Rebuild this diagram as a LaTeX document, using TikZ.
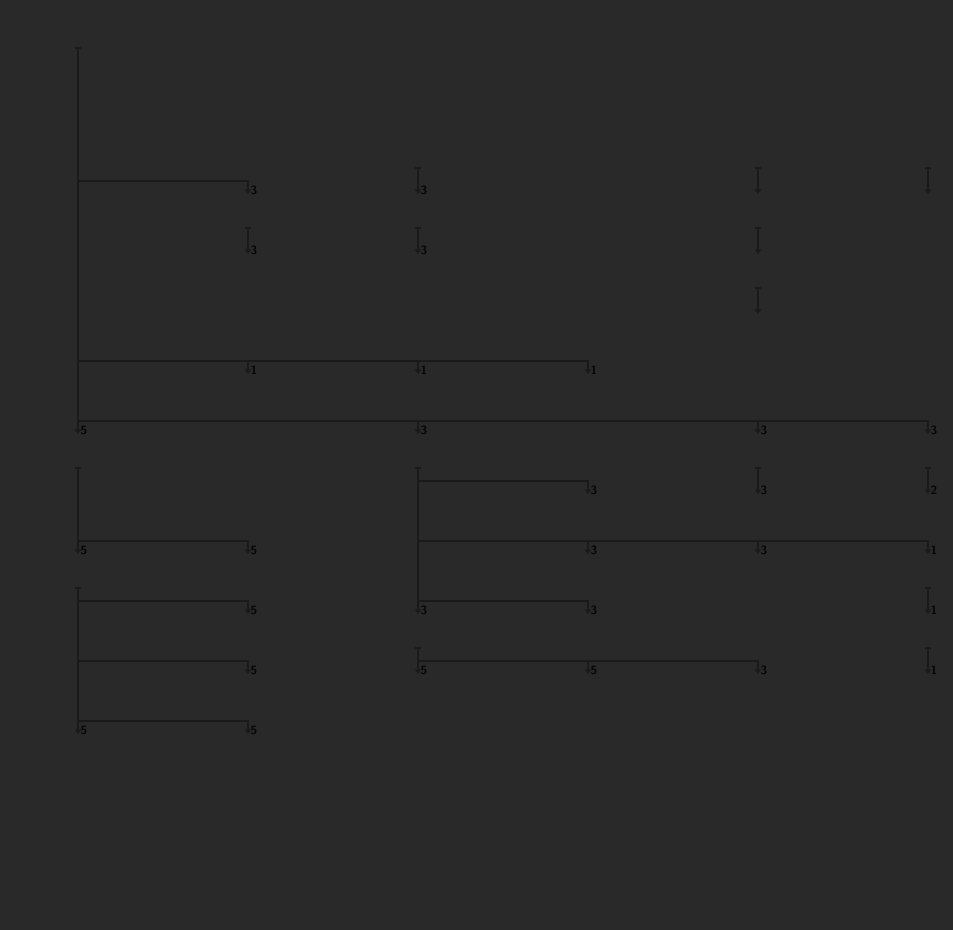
\documentclass[tikz,border=0pt]{standalone}
\usepackage{xcolor}
\usepackage{tikz}
\usetikzlibrary{arrows.meta,positioning}
\definecolor{Canvas}{HTML}{292929}
\definecolor{Wire}{HTML}{1A1A1A}
\definecolor{Digit}{HTML}{050505}

\begin{document}
\begin{tikzpicture}[x=0.75pt,y=-0.75pt,
  wire/.style={draw=Wire,line width=0.8pt},
  drop/.style={wire,-{Triangle[width=4.6pt,length=3.4pt]}},
  stem/.style={wire,{Bar[width=4.6pt,line width=1.2pt]}-{Triangle[width=4.6pt,length=3.4pt]}},
  count/.style={text=Digit,font=\sffamily\bfseries\fontsize{9}{9}\selectfont,inner sep=0pt}
]
\fill[Canvas] (0,0) rectangle (953,930);
\useasboundingbox (0,0) rectangle (953,930);

% root stems
\coordinate (m0) at (78,47);  \coordinate (m1) at (78,434);
\coordinate (b0) at (78,467); \coordinate (b1) at (78,554);
\coordinate (c0) at (418,467); \coordinate (c1) at (418,614);
\coordinate (d0) at (418,647); \coordinate (d1) at (418,674);
\coordinate (e0) at (78,587); \coordinate (e1) at (78,734);
\foreach \r in {m,b,c,d,e}
  \draw[stem] (\r0) -- (\r1);

% branch points on the stems
\coordinate (mh1) at (78,181); \coordinate (mh2) at (78,361); \coordinate (mh3) at (78,421);
\coordinate (bh1) at (78,541);
\coordinate (ch1) at (418,481); \coordinate (ch2) at (418,541); \coordinate (ch3) at (418,601);
\coordinate (dh1) at (418,661);
\coordinate (eh1) at (78,601); \coordinate (eh2) at (78,661); \coordinate (eh3) at (78,721);

% arrow ends
\coordinate (ma) at (248,194);
\coordinate (mb) at (248,374); \coordinate (mc) at (418,374); \coordinate (md) at (588,374);
\coordinate (me) at (418,434); \coordinate (mf) at (758,434); \coordinate (mg) at (928,434);
\coordinate (ba) at (248,554);
\coordinate (ca) at (588,494);
\coordinate (cb) at (588,554); \coordinate (cc) at (758,554); \coordinate (cd) at (928,554);
\coordinate (ce) at (588,614);
\coordinate (da) at (588,674); \coordinate (db) at (758,674);
\coordinate (ea) at (248,614); \coordinate (eb) at (248,674); \coordinate (ec) at (248,734);

% bars
\draw[drop] (mh1) -| (ma);
\draw[drop] (mh2) -| (md);
\draw[drop] (mh2 -| mb) -- (mb);
\draw[drop] (mh2 -| mc) -- (mc);
\draw[drop] (mh3) -| (mg);
\draw[drop] (mh3 -| me) -- (me);
\draw[drop] (mh3 -| mf) -- (mf);
\draw[drop] (bh1) -| (ba);
\draw[drop] (ch1) -| (ca);
\draw[drop] (ch2) -| (cd);
\draw[drop] (ch2 -| cb) -- (cb);
\draw[drop] (ch2 -| cc) -- (cc);
\draw[drop] (ch3) -| (ce);
\draw[drop] (dh1) -| (db);
\draw[drop] (dh1 -| da) -- (da);
\draw[drop] (eh1) -| (ea);
\draw[drop] (eh2) -| (eb);
\draw[drop] (eh3) -| (ec);

% single stems
\foreach \n/\x/\y in {1/418/167,2/758/167,3/928/167,4/248/227,5/418/227,6/758/227,
                      7/758/287,8/758/467,9/928/467,10/928/587,11/928/647} {
  \coordinate (s\n a) at (\x,\y);
  \coordinate (s\n b) at (\x,\y+27);
  \draw[stem] (s\n a) -- (s\n b);
}

% counts
\foreach \t/\c in {m1/5,b1/5,c1/3,d1/5,e1/5,
                   ma/3,mb/1,mc/1,md/1,me/3,mf/3,mg/3,
                   ba/5,ca/3,cb/3,cc/3,cd/1,ce/3,da/5,db/3,ea/5,eb/5,ec/5,
                   s1b/3,s4b/3,s5b/3,s8b/3,s9b/2,s10b/1,s11b/1}
  \node[count,right=1.8pt of \t,yshift=3pt] (l-\t) {\c};
\end{tikzpicture}
\end{document}
